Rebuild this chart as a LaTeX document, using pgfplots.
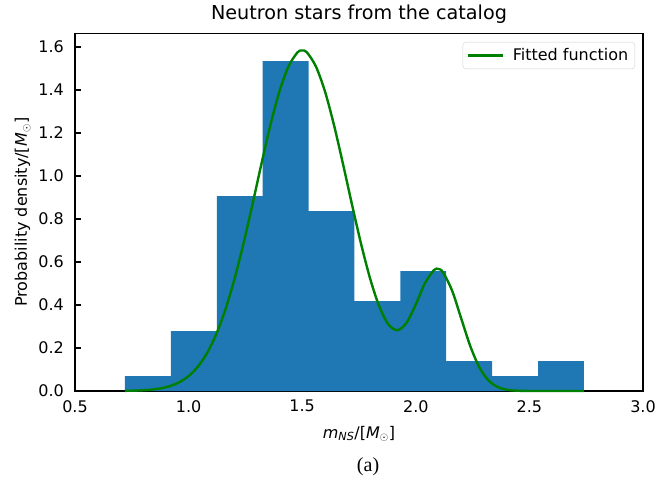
\documentclass[border=0pt]{standalone}
\usepackage{fontspec}
\setmainfont{DejaVu Sans}
\newfontfamily\seriffont{Liberation Serif}
\usepackage{pgfplots}
\pgfplotsset{compat=1.18}
\definecolor{barblue}{HTML}{1F77B4}
\definecolor{mplgreen}{HTML}{008000}
\begin{document}
\begin{tikzpicture}
\begin{axis}[
  at={(0,0)}, anchor=south west,
  scale only axis, width=568bp, height=357.5bp,
  xmin=0.5, xmax=3.0, ymin=0, ymax=1.663,
  xtick={0.5,1.0,1.5,2.0,2.5,3.0},
  ytick={0,0.2,0.4,0.6,0.8,1.0,1.2,1.4,1.6},
  /pgf/number format/.cd, fixed, fixed zerofill, precision=1, assume math mode=true, /pgfplots/.cd,
  tick align=inside, xtick pos=bottom, ytick pos=left,
  major tick length=5.6bp,
  every tick/.style={black, line width=1.3bp},
  axis line style={line width=1.3bp},
  tick label style={font=\fontsize{16bp}{19bp}\selectfont, inner sep=0pt},
  xticklabel style={anchor=north, yshift=-9bp},
  yticklabel style={anchor=east, xshift=-11bp},
  title={Neutron stars from the catalog},
  title style={font=\fontsize{19.2bp}{23bp}\selectfont, at={(axis description cs:0.5,1)}, anchor=base, yshift=8.5bp, inner sep=0pt},
  xlabel={\textit{m}\textsubscript{\textit{NS}}/[\textit{M}$_{\odot}$]},
  xlabel style={font=\fontsize{16bp}{19bp}\selectfont, at={(axis description cs:0.5,0)}, anchor=base, yshift=-47bp, inner sep=0pt},
  ylabel={Probability density/[\textit{M}$_{\odot}$]},
  ylabel style={font=\fontsize{16bp}{19bp}\selectfont, at={(axis description cs:-0.0845,0.5)}, anchor=base, inner sep=0pt},
  legend style={at={(axis description cs:1,1)}, anchor=north east, xshift=-8bp, yshift=-8.5bp,
    draw=black!18, rounded corners=3bp, font=\fontsize{16bp}{19bp}\selectfont,
    inner xsep=4bp, inner ysep=4bp, nodes={inner sep=2.5bp}, column sep=6bp},
  legend cell align=left,
  legend image code/.code={\draw[#1] (0bp,0bp) -- (35bp,0bp);},
  clip=false,
]
\addplot[ybar interval, fill=barblue, draw=none, forget plot] coordinates {
  (0.720,0.0697) (0.922,0.279) (1.124,0.906) (1.326,1.534) (1.528,0.837)
  (1.730,0.418) (1.932,0.558) (2.134,0.139) (2.336,0.0697) (2.538,0.139) (2.740,0.139)
};
\addplot[mplgreen, line width=2.4bp, smooth, tension=0.5] coordinates {
  (0.72,0.0008) (0.76,0.0017) (0.80,0.0035) (0.84,0.0068) (0.88,0.0129)
  (0.92,0.0236) (0.96,0.0413) (1.00,0.0694) (1.04,0.1122) (1.08,0.1742)
  (1.12,0.2599) (1.16,0.3725) (1.20,0.5130) (1.24,0.6788) (1.28,0.8628)
  (1.32,1.0539) (1.36,1.2367) (1.40,1.3944) (1.44,1.5105) (1.48,1.5761)
  (1.50,1.5840) (1.52,1.5761) (1.56,1.5105) (1.60,1.3944) (1.64,1.2367)
  (1.68,1.0540) (1.72,0.8632) (1.76,0.6805) (1.80,0.5191) (1.84,0.3912)
  (1.88,0.3088) (1.92,0.2830) (1.96,0.3186) (2.00,0.4030) (2.04,0.5007)
  (2.08,0.5627) (2.10,0.5676) (2.12,0.5520) (2.16,0.4662) (2.20,0.3371)
  (2.24,0.2081) (2.28,0.1096) (2.32,0.0493) (2.36,0.0189) (2.40,0.0062)
  (2.44,0.0017) (2.48,0.0004) (2.52,0.0001) (2.56,0.0000) (2.64,0.0000) (2.74,0.0000)
};
\addlegendentry{Fitted function}
\node[anchor=base, yshift=-80bp, inner sep=0pt, font=\seriffont\fontsize{20bp}{24bp}\selectfont] at (axis description cs:0.516,0) {(a)};
\end{axis}
\pgfresetboundingbox
\useasboundingbox (-75bp,-96bp) rectangle (580bp,391bp);
\end{tikzpicture}
\end{document}
